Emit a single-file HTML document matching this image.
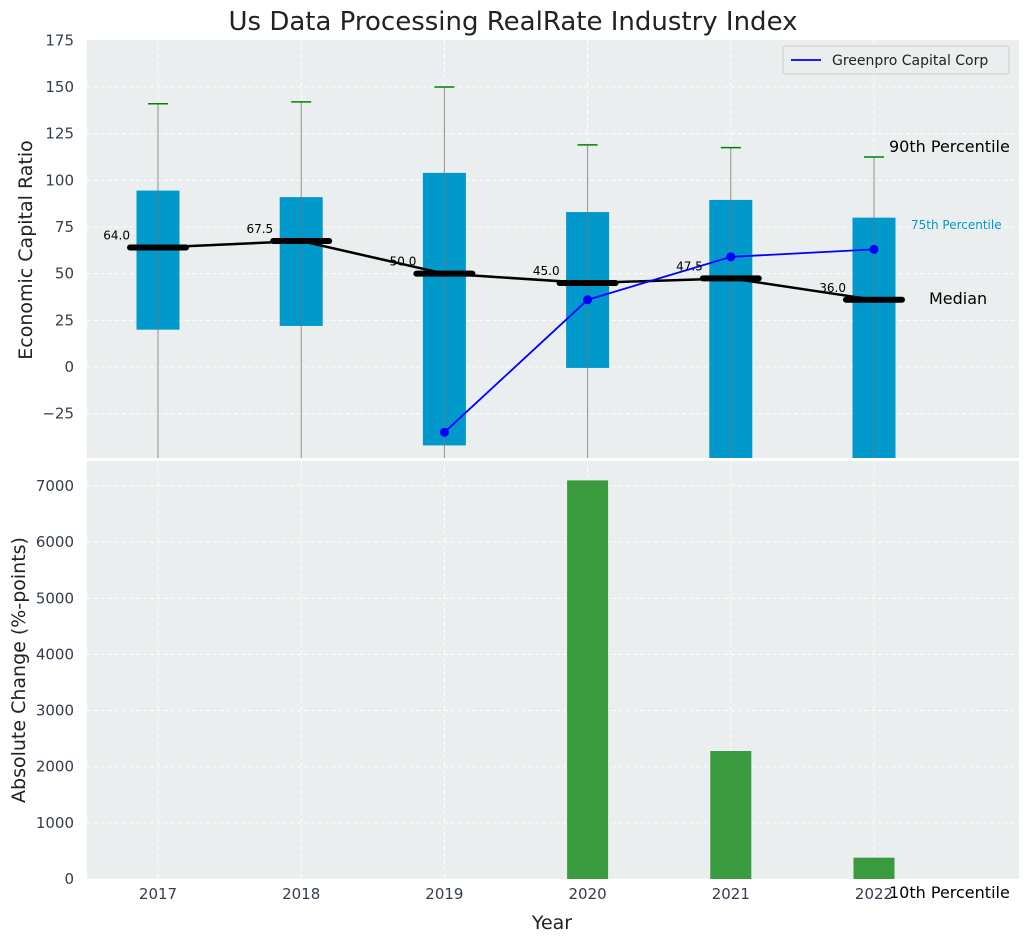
<!DOCTYPE html>
<html><head><meta charset="utf-8"><style>
body{margin:0;background:#fff;font-family:"Liberation Sans","DejaVu Sans",sans-serif}
svg text{font-family:"DejaVu Sans","Liberation Sans",sans-serif}
</style></head><body>
<svg id="c" width="1026" height="942" xmlns="http://www.w3.org/2000/svg"></svg>
<script>
const years=["2017","2018","2019","2020","2021","2022"];
const q25=[20,22,-42,-0.5,-50,-50];
const q75=[94.5,91,104,83,89.5,80];
const p90=[141,142,150,119,117.5,112.5];
const medians=[64,67.5,50,45,47.5,36];
const greenpro=[null,null,-35,36,59,63];
const changes=[0,0,0,7100,2280,380];
const topTicks=[-25,0,25,50,75,100,125,150,175];
const botTicks=[0,1000,2000,3000,4000,5000,6000,7000];
const NS="http://www.w3.org/2000/svg";
const svg=document.getElementById('c');
function el(t,a,p){const e=document.createElementNS(NS,t);for(const k in a)e.setAttribute(k,a[k]);(p||svg).appendChild(e);return e;}
const X=i=>158+i*143.2;
const Y1=v=>367-v*1.8667;
const Y2=v=>879-v*0.05614;
const L=87,R=1019;
let p=el('rect',{x:L,y:40,width:R-L,height:418,fill:'#eaeeee'});

p=el('rect',{x:L,y:461,width:R-L,height:418,fill:'#eaeeee'});

years.forEach((y,i)=>{
 el('line',{x1:X(i),x2:X(i),y1:40,y2:458,stroke:'#fff','stroke-dasharray':'4,3','stroke-width':1});
 el('line',{x1:X(i),x2:X(i),y1:461,y2:879,stroke:'#fff','stroke-dasharray':'4,3','stroke-width':1});
 const t=el('text',{x:X(i),y:899,'text-anchor':'middle','font-size':15,fill:'#333c4e'});t.textContent=y;
 
});
topTicks.forEach(v=>{const y=Y1(v);
 if(v>-48&&v<175)el('line',{x1:L,x2:R,y1:y,y2:y,stroke:'#fff','stroke-dasharray':'4,3'});
 const t=el('text',{x:74,y:y+5,'text-anchor':'end','font-size':15,fill:'#333c4e'});t.textContent=v<0?'\u2212'+(-v):v;
 });
botTicks.forEach(v=>{const y=Y2(v);
 el('line',{x1:L,x2:R,y1:y,y2:y,stroke:'#fff','stroke-dasharray':'4,3'});
 const t=el('text',{x:74,y:y+5,'text-anchor':'end','font-size':15,fill:'#333c4e'});t.textContent=v;
 });
const defs=el('defs',{});const cp=el('clipPath',{id:'ct'},defs);el('rect',{x:L,y:40,width:R-L,height:418},cp);
const g=el('g',{'clip-path':'url(#ct)'});
years.forEach((y,i)=>{
 const b=el('rect',{x:X(i)-21.5,y:Y1(q75[i]),width:43,height:Y1(q25[i])-Y1(q75[i]),fill:'#0099cc'},g);
 
 el('line',{x1:X(i),x2:X(i),y1:Y1(p90[i]),y2:470,stroke:'#777',opacity:0.8},g);
 const c=el('line',{x1:X(i)-10,x2:X(i)+10,y1:Y1(p90[i]),y2:Y1(p90[i]),stroke:'#008000','stroke-width':1.5},g);
 
});
let d=medians.map((m,i)=>(i?'L':'M')+X(i)+','+Y1(m)).join(' ');
el('path',{d:d,stroke:'#000','stroke-width':2.5,fill:'none'},g);
medians.forEach((m,i)=>{
 const s=el('line',{x1:X(i)-28,x2:X(i)+28,y1:Y1(m),y2:Y1(m),stroke:'#000','stroke-width':6,'stroke-linecap':'round'},g);
 
 const t=el('text',{x:X(i)-28,y:Y1(m)-8,'text-anchor':'end','font-size':12,fill:'#000'});t.textContent=m.toFixed(1);
 
});
const gp=[];greenpro.forEach((v,i)=>{if(v!==null)gp.push([X(i),Y1(v)]);});
el('path',{d:gp.map((q,i)=>(i?'L':'M')+q[0]+','+q[1]).join(' '),stroke:'#0000ff','stroke-width':1.8,fill:'none'},g);
gp.forEach(q=>{const c=el('circle',{cx:q[0],cy:q[1],r:4.5,fill:'#0000ff'},g);});
changes.forEach((v,i)=>{if(v<=0)return;
 const b=el('rect',{x:X(i)-20.5,y:Y2(v),width:41,height:Y2(0)-Y2(v),fill:'#3a9a3e'});
 });
function txt(x,y,s,o,name){const t=el('text',Object.assign({x:x,y:y},o));t.textContent=s;return t;}
txt(513,30,'Us Data Processing RealRate Industry Index',{'text-anchor':'middle','font-size':26,fill:'#222'},'chart-title');
txt(889,152,'90th Percentile',{'font-size':16,fill:'#000'},'annotation-90th');
txt(911,229,'75th Percentile',{'font-size':12,fill:'#0099cc'},'annotation-75th');
txt(929,304,'Median',{'font-size':16,fill:'#000'},'annotation-median');
txt(889,898,'10th Percentile',{'font-size':16,fill:'#000'},'annotation-10th');
txt(552,929,'Year',{'text-anchor':'middle','font-size':19,fill:'#222'},'x-axis-title');
txt(32,250,'Economic Capital Ratio',{'text-anchor':'middle','font-size':19,fill:'#222',transform:'rotate(-90 32 250)'},'y-axis-title-top');
txt(25,670,'Absolute Change (%-points)',{'text-anchor':'middle','font-size':19,fill:'#222',transform:'rotate(-90 25 670)'},'y-axis-title-bottom');
const lg=el('g',{});
el('rect',{x:783,y:46,width:226,height:28,rx:3,fill:'#eaeeee',stroke:'#ccc'},lg);
el('line',{x1:791,x2:821,y1:60,y2:60,stroke:'#0000ff','stroke-width':1.8},lg);
const lt=el('text',{x:832,y:65,'font-size':14,fill:'#222'},lg);lt.textContent='Greenpro Capital Corp';

</script>
</body></html>
